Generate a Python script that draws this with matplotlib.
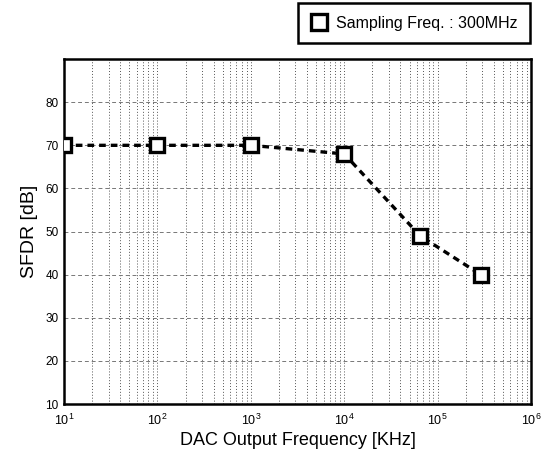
import numpy as np
import matplotlib.pyplot as plt
from matplotlib.ticker import LogLocator, NullFormatter

plt.rcParams['font.family'] = ['Liberation Sans', 'DejaVu Sans']

# data
freq_khz = [10, 100, 1000, 10000, 65000, 290000]
sfdr_db = [70, 70, 70, 68, 49, 40]
y_ticks = [10, 20, 30, 40, 50, 60, 70, 80]
legend_label = 'Sampling Freq. : 300MHz'

fig = plt.figure(figsize=(5.48, 4.65), dpi=100)
ax = fig.add_axes([0.117, 0.131, 0.852, 0.742])

ax.plot(freq_khz, sfdr_db, color='black', linestyle=(0, (2, 1.5)), linewidth=2.4,
        marker='s', markersize=10, markerfacecolor='white', markeredgecolor='black',
        markeredgewidth=2.4, label=legend_label, zorder=3)

ax.set_xscale('log')
ax.set_xlim(10, 1e6)
ax.set_ylim(10, 90)
ax.set_yticks(y_ticks)
ax.xaxis.set_major_locator(LogLocator(base=10, numticks=10))
ax.xaxis.set_minor_locator(LogLocator(base=10, subs=np.arange(2, 10), numticks=100))
ax.xaxis.set_minor_formatter(NullFormatter())

# dotted vertical grid, dashed horizontal grid
ax.grid(True, which='both', axis='x', color='#555555', linestyle=(0, (1, 2)), linewidth=0.7)
ax.grid(True, which='major', axis='y', color='#777777', linestyle=(0, (4, 3)), linewidth=0.7)

ax.tick_params(axis='both', which='both', direction='in', length=0)
ax.tick_params(axis='y', labelsize=8.5, pad=4)
ax.tick_params(axis='x', labelsize=9, pad=6)
for s in ax.spines.values():
    s.set_linewidth(1.8)

ax.set_xlabel('DAC Output Frequency [KHz]', fontsize=13, labelpad=3)
ax.set_ylabel('SFDR [dB]', fontsize=14, labelpad=5)

leg = fig.legend(loc='upper right', bbox_to_anchor=(0.968, 0.994), borderaxespad=0,
                 fontsize=11.5, fancybox=False, edgecolor='black', framealpha=1,
                 markerscale=1.2, handlelength=1.1, handletextpad=0.5, borderpad=0.8)
leg.get_frame().set_linewidth(1.8)
# only the marker in the legend handle
for h in leg.legend_handles:
    h.set_linestyle('none')

fig.savefig('out.png', dpi=100)
